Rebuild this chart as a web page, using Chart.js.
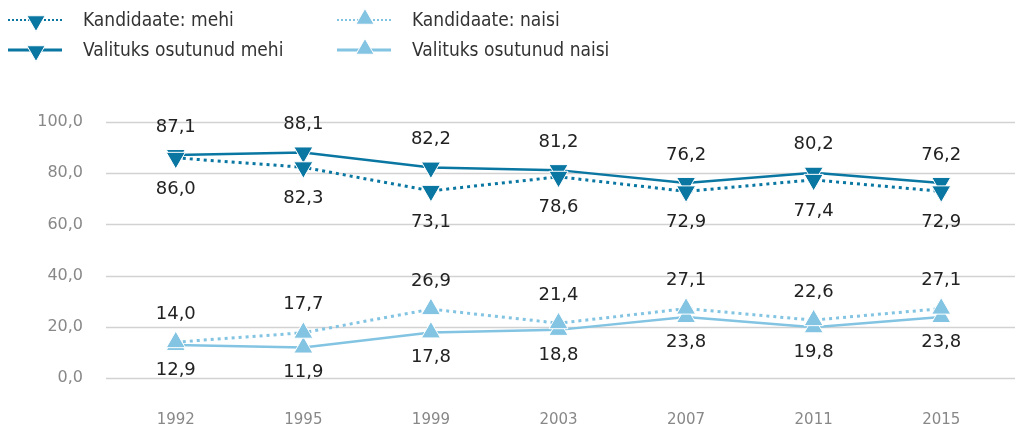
<!DOCTYPE html>
<html>
<head>
<meta charset="utf-8">
<script src="https://cdn.jsdelivr.net/npm/chart.js@4.4.0/dist/chart.umd.min.js"></script>
<style>
  html, body { margin: 0; padding: 0; background: #fff; }
  #wrap { width: 1017px; height: 431px; position: relative; }
</style>
</head>
<body>
<div id="wrap"><canvas id="chart"></canvas></div>
<script>
const years = ['1992', '1995', '1999', '2003', '2007', '2011', '2015'];
const kandidaateMehi = [86.0, 82.3, 73.1, 78.6, 72.9, 77.4, 72.9];
const valitudMehi = [87.1, 88.1, 82.2, 81.2, 76.2, 80.2, 76.2];
const kandidaateNaisi = [14.0, 17.7, 26.9, 21.4, 27.1, 22.6, 27.1];
const valitudNaisi = [12.9, 11.9, 17.8, 18.8, 23.8, 19.8, 23.8];

const dark = '#0a77a2';
const light = '#82c4e2';
const font = '"DejaVu Sans", sans-serif';
const legendFont = '"DejaVu Sans Condensed", "DejaVu Sans", sans-serif';

const fmt = v => v.toFixed(1).replace('.', ',');

function triangle(ctx, cx, cy, r, rot) {
    let rad = rot * Math.PI / 180;
    ctx.beginPath();
    for (let k = 0; k < 3; k++) {
        const px = cx + Math.sin(rad) * r, py = cy - Math.cos(rad) * r;
        k ? ctx.lineTo(px, py) : ctx.moveTo(px, py);
        rad += 2 * Math.PI / 3;
    }
    ctx.closePath();
}

// gridlines run a bit wider than the category band
const gridPlugin = {
    id: 'wideGrid',
    beforeDatasetsDraw(chart) {
        const ctx = chart.ctx;
        const y = chart.scales.y;
        ctx.save();
        ctx.strokeStyle = '#d2d2d2';
        ctx.lineWidth = 1.5;
        y.ticks.forEach(t => {
            const py = Math.round(y.getPixelForValue(t.value)) + 0.5;
            ctx.beginPath();
            ctx.moveTo(106, py);
            ctx.lineTo(1015, py);
            ctx.stroke();
        });
        ctx.restore();
    }
};

// legend: line + marker like the original
const legendPlugin = {
    id: 'customLegend',
    afterDraw(chart) {
        const ctx = chart.ctx;
        const items = [
            { text: 'Kandidaate: mehi', color: dark, dotted: true, rot: 180, x: 8, y: 20 },
            { text: 'Valituks osutunud mehi', color: dark, dotted: false, rot: 180, x: 8, y: 50 },
            { text: 'Kandidaate: naisi', color: light, dotted: true, rot: 0, x: 337, y: 20 },
            { text: 'Valituks osutunud naisi', color: light, dotted: false, rot: 0, x: 337, y: 50 }
        ];
        ctx.save();
        items.forEach(it => {
            ctx.strokeStyle = it.color;
            ctx.lineWidth = it.dotted ? 2 : 3;
            ctx.setLineDash(it.dotted ? [2, 2] : []);
            ctx.beginPath();
            ctx.moveTo(it.x, it.y);
            ctx.lineTo(it.x + 54, it.y);
            ctx.stroke();
            ctx.setLineDash([]);
            ctx.fillStyle = it.color;
            ctx.strokeStyle = '#fff';
            ctx.lineWidth = 1;
            triangle(ctx, it.x + 28, it.y + (it.rot ? 1 : -1), 10.5, it.rot);
            ctx.fill();
            ctx.stroke();
            ctx.fillStyle = '#333';
            ctx.font = '19px ' + legendFont;
            ctx.textBaseline = 'middle';
            ctx.textAlign = 'left';
            ctx.fillText(it.text, it.x + 75, it.y + 1);
        });
        ctx.restore();
    }
};

// value labels above or below each point
const labelPlugin = {
    id: 'valueLabels',
    afterDatasetsDraw(chart) {
        const ctx = chart.ctx;
        ctx.save();
        ctx.font = '18px ' + font;
        ctx.fillStyle = '#222';
        ctx.textAlign = 'center';
        ctx.textBaseline = 'middle';
        chart.data.datasets.forEach((ds, i) => {
            const meta = chart.getDatasetMeta(i);
            meta.data.forEach((pt, j) => {
                ctx.fillText(fmt(ds.data[j]), pt.x, pt.y + ds.labelDy);
            });
        });
        ctx.restore();
    }
};

const ctx = document.getElementById('chart').getContext('2d');
new Chart(ctx, {
    type: 'line',
    data: {
        labels: years,
        datasets: [
            {
                label: 'Kandidaate: mehi',
                data: kandidaateMehi,
                borderColor: dark,
                backgroundColor: dark,
                borderWidth: 3,
                borderDash: [3, 4],
                pointStyle: 'triangle',
                rotation: 180,
                pointRadius: 11,
                pointBorderColor: '#fff',
                pointBorderWidth: 1,
                labelDy: 31
            },
            {
                label: 'Valituks osutunud mehi',
                data: valitudMehi,
                borderColor: dark,
                backgroundColor: dark,
                borderWidth: 2.5,
                pointStyle: 'triangle',
                rotation: 180,
                pointRadius: 11,
                pointBorderColor: '#fff',
                pointBorderWidth: 1,
                labelDy: -28
            },
            {
                label: 'Kandidaate: naisi',
                data: kandidaateNaisi,
                borderColor: light,
                backgroundColor: light,
                borderWidth: 3,
                borderDash: [3, 4],
                pointStyle: 'triangle',
                pointRadius: 11,
                pointBorderColor: '#fff',
                pointBorderWidth: 1,
                labelDy: -28
            },
            {
                label: 'Valituks osutunud naisi',
                data: valitudNaisi,
                borderColor: light,
                backgroundColor: light,
                borderWidth: 2.5,
                pointStyle: 'triangle',
                pointRadius: 11,
                pointBorderColor: '#fff',
                pointBorderWidth: 1,
                labelDy: 25
            }
        ]
    },
    options: {
        responsive: true,
        maintainAspectRatio: false,
        animation: false,
        layout: { padding: { top: 122, right: 7, left: 0, bottom: 0 } },
        plugins: {
            legend: { display: false },
            tooltip: { enabled: false }
        },
        scales: {
            x: {
                offset: true,
                afterFit: s => { s.height = 53; },
                grid: { display: false, drawTicks: false },
                border: { display: false },
                ticks: { color: '#888', font: { family: font, size: 15 }, padding: 33 }
            },
            y: {
                min: 0,
                max: 100,
                afterFit: s => { s.width = 112; },
                grid: { display: false, drawTicks: false },
                border: { display: false },
                ticks: {
                    stepSize: 20,
                    color: '#888',
                    padding: 29,
                    font: { family: font, size: 16 },
                    callback: v => fmt(v)
                }
            }
        }
    },
    plugins: [gridPlugin, legendPlugin, labelPlugin]
});
</script>
</body>
</html>
